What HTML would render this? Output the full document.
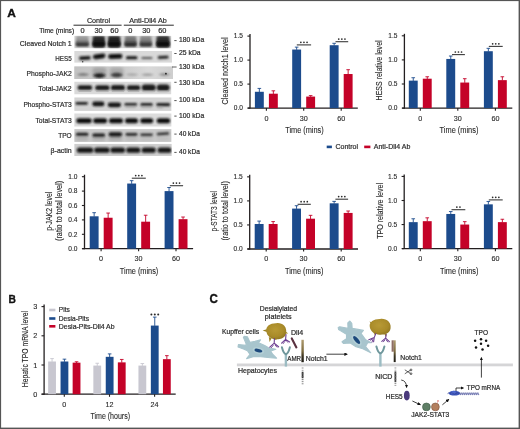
<!DOCTYPE html><html><head><meta charset="utf-8"><style>html,body{margin:0;padding:0;background:#fff;}svg{display:block;will-change:transform;}text{font-family:"Liberation Sans", sans-serif;}</style></head><body>
<svg width="520" height="429" viewBox="0 0 520 429">
<defs><filter id="b1" x="-30%" y="-250%" width="160%" height="600%"><feGaussianBlur stdDeviation="0.9"/></filter><filter id="b2" x="-30%" y="-250%" width="160%" height="600%"><feGaussianBlur stdDeviation="0.6"/></filter><filter id="b3" x="-30%" y="-250%" width="160%" height="600%"><feGaussianBlur stdDeviation="1.4"/></filter><filter id="bs" x="-10%" y="-10%" width="120%" height="120%"><feGaussianBlur stdDeviation="0.45"/></filter></defs>
<rect x="0.00" y="0.00" width="520.00" height="429.00" fill="#ffffff" />
<text x="7.30" y="17.40" font-size="11.6" textLength="8.60" lengthAdjust="spacingAndGlyphs" font-weight="bold" fill="#111" stroke="#111" stroke-width="0.35">A</text>
<text x="8.50" y="302.90" font-size="11.6" textLength="7.40" lengthAdjust="spacingAndGlyphs" font-weight="bold" fill="#111" stroke="#111" stroke-width="0.35">B</text>
<text x="209.60" y="303.00" font-size="12.0" textLength="8.40" lengthAdjust="spacingAndGlyphs" font-weight="bold" fill="#111" stroke="#111" stroke-width="0.35">C</text>
<text x="86.90" y="23.10" font-size="7.4" textLength="23.20" lengthAdjust="spacingAndGlyphs" fill="#2b2b2b" stroke="#2b2b2b" stroke-width="0.2" >Control</text>
<text x="129.20" y="23.10" font-size="7.4" textLength="37.60" lengthAdjust="spacingAndGlyphs" fill="#2b2b2b" stroke="#2b2b2b" stroke-width="0.2" >Anti-Dll4 Ab</text>
<line x1="73.50" y1="25.20" x2="121.60" y2="25.20" stroke="#2b2b2b" stroke-width="1.0" />
<line x1="123.80" y1="25.20" x2="173.80" y2="25.20" stroke="#2b2b2b" stroke-width="1.0" />
<text x="39.20" y="33.00" font-size="7.4" textLength="35.00" lengthAdjust="spacingAndGlyphs" fill="#2b2b2b" stroke="#2b2b2b" stroke-width="0.2" >Time (mins)</text>
<text x="82.60" y="33.00" font-size="7.4" text-anchor="middle" fill="#2b2b2b" stroke="#2b2b2b" stroke-width="0.2" >0</text>
<text x="98.50" y="33.00" font-size="7.4" text-anchor="middle" fill="#2b2b2b" stroke="#2b2b2b" stroke-width="0.2" >30</text>
<text x="114.40" y="33.00" font-size="7.4" text-anchor="middle" fill="#2b2b2b" stroke="#2b2b2b" stroke-width="0.2" >60</text>
<text x="130.30" y="33.00" font-size="7.4" text-anchor="middle" fill="#2b2b2b" stroke="#2b2b2b" stroke-width="0.2" >0</text>
<text x="146.30" y="33.00" font-size="7.4" text-anchor="middle" fill="#2b2b2b" stroke="#2b2b2b" stroke-width="0.2" >30</text>
<text x="162.30" y="33.00" font-size="7.4" text-anchor="middle" fill="#2b2b2b" stroke="#2b2b2b" stroke-width="0.2" >60</text>
<text x="19.80" y="46.40" font-size="7.5" textLength="51.90" lengthAdjust="spacingAndGlyphs" fill="#2b2b2b" stroke="#2b2b2b" stroke-width="0.2" >Cleaved Notch 1</text>
<text x="55.30" y="61.00" font-size="7.5" textLength="16.40" lengthAdjust="spacingAndGlyphs" fill="#2b2b2b" stroke="#2b2b2b" stroke-width="0.2" >HES5</text>
<text x="26.50" y="76.20" font-size="7.5" textLength="45.20" lengthAdjust="spacingAndGlyphs" fill="#2b2b2b" stroke="#2b2b2b" stroke-width="0.2" >Phospho-JAK2</text>
<text x="38.50" y="91.00" font-size="7.5" textLength="33.20" lengthAdjust="spacingAndGlyphs" fill="#2b2b2b" stroke="#2b2b2b" stroke-width="0.2" >Total-JAK2</text>
<text x="23.40" y="107.10" font-size="7.5" textLength="48.30" lengthAdjust="spacingAndGlyphs" fill="#2b2b2b" stroke="#2b2b2b" stroke-width="0.2" >Phospho-STAT3</text>
<text x="35.50" y="123.00" font-size="7.5" textLength="36.20" lengthAdjust="spacingAndGlyphs" fill="#2b2b2b" stroke="#2b2b2b" stroke-width="0.2" >Total-STAT3</text>
<text x="58.20" y="138.20" font-size="7.5" textLength="13.50" lengthAdjust="spacingAndGlyphs" fill="#2b2b2b" stroke="#2b2b2b" stroke-width="0.2" >TPO</text>
<text x="50.60" y="152.60" font-size="7.5" textLength="21.10" lengthAdjust="spacingAndGlyphs" fill="#2b2b2b" stroke="#2b2b2b" stroke-width="0.2" >β-actin</text>
<line x1="174.30" y1="40.60" x2="176.60" y2="40.60" stroke="#2b2b2b" stroke-width="0.8" />
<text x="179.00" y="42.00" font-size="6.6" textLength="25.20" lengthAdjust="spacingAndGlyphs" fill="#2b2b2b" stroke="#2b2b2b" stroke-width="0.2" >180 kDa</text>
<line x1="174.30" y1="53.50" x2="176.60" y2="53.50" stroke="#2b2b2b" stroke-width="0.8" />
<text x="179.00" y="55.00" font-size="6.6" textLength="21.60" lengthAdjust="spacingAndGlyphs" fill="#2b2b2b" stroke="#2b2b2b" stroke-width="0.2" >25 kDa</text>
<text x="179.00" y="69.10" font-size="6.6" textLength="25.20" lengthAdjust="spacingAndGlyphs" fill="#2b2b2b" stroke="#2b2b2b" stroke-width="0.2" >130 kDa</text>
<line x1="174.30" y1="82.30" x2="176.60" y2="82.30" stroke="#2b2b2b" stroke-width="0.8" />
<text x="179.00" y="84.50" font-size="6.6" textLength="25.20" lengthAdjust="spacingAndGlyphs" fill="#2b2b2b" stroke="#2b2b2b" stroke-width="0.2" >130 kDa</text>
<line x1="174.30" y1="100.60" x2="176.60" y2="100.60" stroke="#2b2b2b" stroke-width="0.8" />
<text x="179.00" y="102.30" font-size="6.6" textLength="25.20" lengthAdjust="spacingAndGlyphs" fill="#2b2b2b" stroke="#2b2b2b" stroke-width="0.2" >100 kDa</text>
<line x1="174.30" y1="116.10" x2="176.60" y2="116.10" stroke="#2b2b2b" stroke-width="0.8" />
<text x="179.00" y="118.10" font-size="6.6" textLength="25.20" lengthAdjust="spacingAndGlyphs" fill="#2b2b2b" stroke="#2b2b2b" stroke-width="0.2" >100 kDa</text>
<line x1="174.30" y1="134.10" x2="176.60" y2="134.10" stroke="#2b2b2b" stroke-width="0.8" />
<text x="179.00" y="135.80" font-size="6.6" textLength="20.80" lengthAdjust="spacingAndGlyphs" fill="#2b2b2b" stroke="#2b2b2b" stroke-width="0.2" >40 kDa</text>
<line x1="174.30" y1="152.40" x2="176.60" y2="152.40" stroke="#2b2b2b" stroke-width="0.8" />
<text x="179.00" y="153.70" font-size="6.6" textLength="20.80" lengthAdjust="spacingAndGlyphs" fill="#2b2b2b" stroke="#2b2b2b" stroke-width="0.2" >40 kDa</text>
<defs><linearGradient id="pj" x1="0" y1="0" x2="1" y2="0"><stop offset="0" stop-color="#bdbdbd" stop-opacity="0.7"/><stop offset="0.45" stop-color="#c4c4c4" stop-opacity="0.4"/><stop offset="0.75" stop-color="#e4e4e4" stop-opacity="0.5"/><stop offset="1" stop-color="#cfcfcf" stop-opacity="0.3"/></linearGradient></defs>
<g id="blot">
<clipPath id="cs0"><rect x="74.2" y="35.7" width="97.2" height="12.699999999999996"/></clipPath>
<g clip-path="url(#cs0)">
<rect x="74.20" y="35.70" width="97.20" height="12.70" fill="#d6d6d6" />
</g>
<clipPath id="cs1"><rect x="74.2" y="51.0" width="97.8" height="11.799999999999997"/></clipPath>
<g clip-path="url(#cs1)">
<rect x="74.20" y="51.00" width="97.80" height="11.80" fill="#d9d9d9" />
</g>
<clipPath id="cs2"><rect x="74.2" y="66.3" width="98.8" height="12.700000000000003"/></clipPath>
<g clip-path="url(#cs2)">
<rect x="74.20" y="66.30" width="98.80" height="12.70" fill="#cfcfcf" />
<rect x="74.2" y="66.3" width="98.8" height="12.700000000000003" fill="url(#pj)"/>
</g>
<clipPath id="cs3"><rect x="74.2" y="81.5" width="97.2" height="13.0"/></clipPath>
<g clip-path="url(#cs3)">
<rect x="74.20" y="81.50" width="97.20" height="13.00" fill="#dadada" />
</g>
<clipPath id="cs4"><rect x="74.2" y="97.3" width="97.39999999999999" height="13.600000000000009"/></clipPath>
<g clip-path="url(#cs4)">
<rect x="74.20" y="97.30" width="97.40" height="13.60" fill="#d4d4d4" />
</g>
<clipPath id="cs5"><rect x="74.2" y="113.3" width="97.39999999999999" height="13.400000000000006"/></clipPath>
<g clip-path="url(#cs5)">
<rect x="74.20" y="113.30" width="97.40" height="13.40" fill="#dcdcdc" />
</g>
<clipPath id="cs6"><rect x="74.2" y="129.1" width="97.39999999999999" height="12.800000000000011"/></clipPath>
<g clip-path="url(#cs6)">
<rect x="74.20" y="129.10" width="97.40" height="12.80" fill="#c9c9c9" />
</g>
<clipPath id="cs7"><rect x="74.2" y="143.8" width="97.60000000000001" height="12.199999999999989"/></clipPath>
<g clip-path="url(#cs7)">
<rect x="74.20" y="143.80" width="97.60" height="12.20" fill="#cfcfcf" />
</g>
<line x1="172.00" y1="67.00" x2="176.60" y2="67.00" stroke="#3a3a3a" stroke-width="0.8" />
</g>
<g clip-path="url(#cs0)"><rect x="76.10" y="36.10" width="12.50" height="11.00" rx="1.60" fill="#9a9a9a" opacity="1.0" filter="url(#b1)"/></g>
<g clip-path="url(#cs0)"><rect x="76.10" y="40.50" width="12.50" height="5.00" rx="1.60" fill="#707070" opacity="1.0" filter="url(#b1)"/></g>
<g clip-path="url(#cs0)"><rect x="76.10" y="43.10" width="12.50" height="3.00" rx="1.20" fill="#303030" opacity="1.0" filter="url(#b1)"/></g>
<g clip-path="url(#cs0)"><rect x="124.80" y="36.10" width="11.60" height="11.00" rx="1.60" fill="#7a7a7a" opacity="1.0" filter="url(#b1)"/></g>
<g clip-path="url(#cs0)"><rect x="124.80" y="40.50" width="11.60" height="5.00" rx="1.60" fill="#5a5a5a" opacity="1.0" filter="url(#b1)"/></g>
<g clip-path="url(#cs0)"><rect x="124.80" y="43.10" width="11.60" height="3.00" rx="1.20" fill="#262626" opacity="1.0" filter="url(#b1)"/></g>
<g clip-path="url(#cs0)"><rect x="140.00" y="36.10" width="11.60" height="11.00" rx="1.60" fill="#888888" opacity="1.0" filter="url(#b1)"/></g>
<g clip-path="url(#cs0)"><rect x="140.00" y="40.50" width="11.60" height="5.00" rx="1.60" fill="#666666" opacity="1.0" filter="url(#b1)"/></g>
<g clip-path="url(#cs0)"><rect x="140.00" y="43.10" width="11.60" height="3.00" rx="1.20" fill="#303030" opacity="1.0" filter="url(#b1)"/></g>
<g clip-path="url(#cs0)"><rect x="92.60" y="36.00" width="12.40" height="11.40" rx="1.80" fill="#2a2a2a" opacity="1.0" filter="url(#b1)"/></g>
<g clip-path="url(#cs0)"><rect x="92.60" y="41.20" width="12.40" height="5.60" rx="1.80" fill="#0c0c0c" opacity="1.0" filter="url(#b1)"/></g>
<g clip-path="url(#cs0)"><rect x="108.00" y="36.00" width="12.40" height="11.40" rx="1.80" fill="#262626" opacity="1.0" filter="url(#b1)"/></g>
<g clip-path="url(#cs0)"><rect x="108.00" y="41.20" width="12.40" height="5.60" rx="1.80" fill="#0c0c0c" opacity="1.0" filter="url(#b1)"/></g>
<g clip-path="url(#cs0)"><rect x="156.40" y="36.00" width="13.20" height="11.40" rx="1.80" fill="#303030" opacity="1.0" filter="url(#b1)"/></g>
<g clip-path="url(#cs0)"><rect x="156.40" y="41.20" width="13.20" height="5.60" rx="1.80" fill="#0c0c0c" opacity="1.0" filter="url(#b1)"/></g>
<g clip-path="url(#cs1)"><rect x="79.00" y="56.30" width="11.80" height="3.40" rx="1.70" fill="#101010" opacity="1.0" filter="url(#b1)" transform="rotate(-3.00 84.90 58.00)"/></g>
<circle cx="82.7" cy="61.8" r="0.7" fill="#333" filter="url(#b2)"/>
<g clip-path="url(#cs1)"><rect x="93.00" y="53.90" width="12.40" height="4.80" rx="2.40" fill="#080808" opacity="1.0" filter="url(#b1)" transform="rotate(-8.00 99.20 56.30)"/></g>
<g clip-path="url(#cs1)"><rect x="108.20" y="54.10" width="14.20" height="4.60" rx="2.30" fill="#080808" opacity="1.0" filter="url(#b1)" transform="rotate(-2.00 115.30 56.40)"/></g>
<g clip-path="url(#cs1)"><rect x="125.90" y="56.20" width="11.60" height="3.00" rx="1.50" fill="#161616" opacity="1.0" filter="url(#b1)"/></g>
<g clip-path="url(#cs1)"><rect x="141.30" y="57.10" width="11.20" height="2.00" rx="1.00" fill="#555555" opacity="1.0" filter="url(#b1)"/></g>
<g clip-path="url(#cs1)"><rect x="157.70" y="55.80" width="10.90" height="3.00" rx="1.50" fill="#202020" opacity="1.0" filter="url(#b1)" transform="rotate(-3.00 163.15 57.30)"/></g>
<g clip-path="url(#cs2)"><rect x="92.60" y="67.60" width="13.60" height="10.00" rx="3.00" fill="#a4a4a4" opacity="1.0" filter="url(#b3)"/></g>
<g clip-path="url(#cs2)"><rect x="110.00" y="67.60" width="13.40" height="10.00" rx="3.00" fill="#aaaaaa" opacity="1.0" filter="url(#b3)"/></g>
<g clip-path="url(#cs2)"><path d="M76.60,74.60 Q83.10,71.60 89.60,74.60 Q83.10,77.60 76.60,74.60 Z" fill="#7c7c7c" opacity="1.0" filter="url(#b1)"/></g>
<g clip-path="url(#cs2)"><path d="M92.80,75.60 Q99.40,70.80 106.00,75.60 Q99.40,80.40 92.80,75.60 Z" fill="#1e1e1e" opacity="1.0" filter="url(#b1)"/></g>
<g clip-path="url(#cs2)"><path d="M110.20,75.00 Q116.70,70.40 123.20,75.00 Q116.70,79.60 110.20,75.00 Z" fill="#3c3c3c" opacity="1.0" filter="url(#b1)"/></g>
<g clip-path="url(#cs2)"><path d="M125.60,74.60 Q132.10,72.20 138.60,74.60 Q132.10,77.00 125.60,74.60 Z" fill="#a2a2a2" opacity="1.0" filter="url(#b1)"/></g>
<g clip-path="url(#cs2)"><path d="M141.00,74.80 Q147.50,72.40 154.00,74.80 Q147.50,77.20 141.00,74.80 Z" fill="#9c9c9c" opacity="1.0" filter="url(#b1)"/></g>
<g clip-path="url(#cs2)"><path d="M158.40,74.60 Q164.40,71.80 170.40,74.60 Q164.40,77.40 158.40,74.60 Z" fill="#8c8c8c" opacity="1.0" filter="url(#b1)"/></g>
<circle cx="165.9" cy="73.7" r="0.9" fill="#222" filter="url(#b2)"/>
<g clip-path="url(#cs3)"><rect x="77.50" y="85.30" width="14.80" height="4.80" rx="2.40" fill="#1a1a1a" opacity="1.0" filter="url(#b1)"/></g>
<g clip-path="url(#cs3)"><rect x="78.50" y="90.70" width="12.80" height="1.40" rx="0.70" fill="#b4b4b4" opacity="1.0" filter="url(#b2)"/></g>
<g clip-path="url(#cs3)"><rect x="95.20" y="85.20" width="14.40" height="5.00" rx="2.50" fill="#1a1a1a" opacity="1.0" filter="url(#b1)"/></g>
<g clip-path="url(#cs3)"><rect x="96.20" y="90.70" width="12.40" height="1.40" rx="0.70" fill="#b4b4b4" opacity="1.0" filter="url(#b2)"/></g>
<g clip-path="url(#cs3)"><rect x="110.90" y="85.10" width="14.10" height="5.20" rx="2.60" fill="#1a1a1a" opacity="1.0" filter="url(#b1)"/></g>
<g clip-path="url(#cs3)"><rect x="111.90" y="90.70" width="12.10" height="1.40" rx="0.70" fill="#b4b4b4" opacity="1.0" filter="url(#b2)"/></g>
<g clip-path="url(#cs3)"><rect x="126.90" y="85.20" width="13.40" height="5.00" rx="2.50" fill="#1a1a1a" opacity="1.0" filter="url(#b1)"/></g>
<g clip-path="url(#cs3)"><rect x="127.90" y="90.70" width="11.40" height="1.40" rx="0.70" fill="#b4b4b4" opacity="1.0" filter="url(#b2)"/></g>
<g clip-path="url(#cs3)"><rect x="141.70" y="84.60" width="14.00" height="6.20" rx="3.10" fill="#1a1a1a" opacity="1.0" filter="url(#b1)"/></g>
<g clip-path="url(#cs3)"><rect x="142.70" y="90.70" width="12.00" height="1.40" rx="0.70" fill="#b4b4b4" opacity="1.0" filter="url(#b2)"/></g>
<g clip-path="url(#cs3)"><rect x="156.70" y="84.60" width="12.90" height="6.20" rx="3.10" fill="#1a1a1a" opacity="1.0" filter="url(#b1)"/></g>
<g clip-path="url(#cs3)"><rect x="157.70" y="90.70" width="10.90" height="1.40" rx="0.70" fill="#b4b4b4" opacity="1.0" filter="url(#b2)"/></g>
<g clip-path="url(#cs4)"><rect x="75.50" y="101.90" width="12.30" height="2.80" rx="1.40" fill="#1e1e1e" opacity="1.0" filter="url(#b1)"/></g>
<g clip-path="url(#cs4)"><rect x="92.30" y="101.50" width="12.10" height="4.80" rx="2.40" fill="#141414" opacity="1.0" filter="url(#b1)"/></g>
<g clip-path="url(#cs4)"><rect x="107.70" y="102.40" width="13.40" height="4.80" rx="2.40" fill="#161616" opacity="1.0" filter="url(#b1)"/></g>
<g clip-path="url(#cs4)"><rect x="124.40" y="102.90" width="12.70" height="2.80" rx="1.40" fill="#222222" opacity="1.0" filter="url(#b1)"/></g>
<g clip-path="url(#cs4)"><rect x="140.30" y="103.10" width="12.50" height="3.00" rx="1.50" fill="#262626" opacity="1.0" filter="url(#b1)"/></g>
<g clip-path="url(#cs4)"><rect x="156.30" y="103.00" width="13.90" height="3.20" rx="1.60" fill="#222222" opacity="1.0" filter="url(#b1)"/></g>
<g clip-path="url(#cs4)"><rect x="125.40" y="106.30" width="10.60" height="1.20" rx="0.60" fill="#9a9a9a" opacity="1.0" filter="url(#b1)"/></g>
<g clip-path="url(#cs4)"><rect x="141.00" y="106.50" width="11.00" height="1.20" rx="0.60" fill="#9a9a9a" opacity="1.0" filter="url(#b1)"/></g>
<g clip-path="url(#cs4)"><rect x="157.00" y="106.70" width="6.00" height="1.20" rx="0.60" fill="#9a9a9a" opacity="1.0" filter="url(#b1)"/></g>
<g clip-path="url(#cs5)"><rect x="76.30" y="118.20" width="15.40" height="5.00" rx="2.50" fill="#0e0e0e" opacity="1.0" filter="url(#b1)"/></g>
<g clip-path="url(#cs5)"><rect x="93.20" y="118.20" width="13.90" height="5.00" rx="2.50" fill="#0e0e0e" opacity="1.0" filter="url(#b1)"/></g>
<g clip-path="url(#cs5)"><rect x="109.00" y="118.20" width="14.00" height="5.00" rx="2.50" fill="#0e0e0e" opacity="1.0" filter="url(#b1)"/></g>
<g clip-path="url(#cs5)"><rect x="125.00" y="118.20" width="13.00" height="5.00" rx="2.50" fill="#0e0e0e" opacity="1.0" filter="url(#b1)"/></g>
<g clip-path="url(#cs5)"><rect x="140.30" y="118.20" width="12.90" height="5.00" rx="2.50" fill="#0e0e0e" opacity="1.0" filter="url(#b1)"/></g>
<g clip-path="url(#cs5)"><rect x="156.70" y="118.20" width="13.50" height="5.00" rx="2.50" fill="#0e0e0e" opacity="1.0" filter="url(#b1)"/></g>
<g clip-path="url(#cs6)"><rect x="75.90" y="136.20" width="12.50" height="4.40" rx="1.50" fill="#b0b0b0" opacity="1.0" filter="url(#b3)"/></g>
<g clip-path="url(#cs6)"><rect x="92.30" y="136.20" width="12.90" height="4.40" rx="1.50" fill="#acacac" opacity="1.0" filter="url(#b3)"/></g>
<g clip-path="url(#cs6)"><rect x="108.60" y="136.20" width="13.50" height="4.40" rx="1.50" fill="#a8a8a8" opacity="1.0" filter="url(#b3)"/></g>
<g clip-path="url(#cs6)"><rect x="125.50" y="136.20" width="12.00" height="4.40" rx="1.50" fill="#bababa" opacity="1.0" filter="url(#b3)"/></g>
<g clip-path="url(#cs6)"><rect x="140.30" y="136.20" width="12.50" height="4.40" rx="1.50" fill="#bebebe" opacity="1.0" filter="url(#b3)"/></g>
<g clip-path="url(#cs6)"><rect x="156.70" y="136.20" width="12.50" height="4.40" rx="1.50" fill="#c0c0c0" opacity="1.0" filter="url(#b3)"/></g>
<g clip-path="url(#cs6)"><rect x="75.90" y="132.80" width="12.50" height="3.00" rx="1.50" fill="#1c1c1c" opacity="1.0" filter="url(#b1)"/></g>
<g clip-path="url(#cs6)"><rect x="92.30" y="133.50" width="12.90" height="3.20" rx="1.60" fill="#1c1c1c" opacity="1.0" filter="url(#b1)"/></g>
<g clip-path="url(#cs6)"><rect x="108.60" y="132.20" width="13.50" height="4.20" rx="2.10" fill="#141414" opacity="1.0" filter="url(#b1)"/></g>
<g clip-path="url(#cs6)"><rect x="125.50" y="132.90" width="12.00" height="2.80" rx="1.40" fill="#242424" opacity="1.0" filter="url(#b1)"/></g>
<g clip-path="url(#cs6)"><rect x="140.30" y="133.40" width="12.50" height="2.60" rx="1.30" fill="#2c2c2c" opacity="1.0" filter="url(#b1)"/></g>
<g clip-path="url(#cs6)"><rect x="156.70" y="132.40" width="12.50" height="2.60" rx="1.30" fill="#282828" opacity="1.0" filter="url(#b1)" transform="rotate(-4.00 162.95 133.70)"/></g>
<g clip-path="url(#cs7)"><rect x="76.90" y="147.60" width="16.30" height="5.20" rx="2.60" fill="#121212" opacity="1.0" filter="url(#b1)"/></g>
<g clip-path="url(#cs7)"><rect x="94.20" y="147.60" width="15.40" height="5.20" rx="2.60" fill="#121212" opacity="1.0" filter="url(#b1)"/></g>
<g clip-path="url(#cs7)"><rect x="110.50" y="147.60" width="14.50" height="5.20" rx="2.60" fill="#121212" opacity="1.0" filter="url(#b1)"/></g>
<g clip-path="url(#cs7)"><rect x="126.30" y="147.60" width="14.00" height="5.20" rx="2.60" fill="#121212" opacity="1.0" filter="url(#b1)"/></g>
<g clip-path="url(#cs7)"><rect x="141.70" y="147.60" width="14.00" height="5.20" rx="2.60" fill="#121212" opacity="1.0" filter="url(#b1)"/></g>
<g clip-path="url(#cs7)"><rect x="157.70" y="147.60" width="13.70" height="5.20" rx="2.60" fill="#121212" opacity="1.0" filter="url(#b1)"/></g>
<line x1="250.00" y1="34.10" x2="250.00" y2="108.60" stroke="#231f20" stroke-width="1.3" />
<line x1="247.80" y1="108.10" x2="357.80" y2="108.10" stroke="#231f20" stroke-width="1.3" />
<line x1="247.40" y1="108.10" x2="250.00" y2="108.10" stroke="#231f20" stroke-width="1.1" />
<text x="243.00" y="110.46" font-size="6.6" text-anchor="end" fill="#2a2a2a" stroke="#2a2a2a" stroke-width="0.12" >0.0</text>
<line x1="247.40" y1="84.10" x2="250.00" y2="84.10" stroke="#231f20" stroke-width="1.1" />
<text x="243.00" y="86.46" font-size="6.6" text-anchor="end" fill="#2a2a2a" stroke="#2a2a2a" stroke-width="0.12" >0.5</text>
<line x1="247.40" y1="60.10" x2="250.00" y2="60.10" stroke="#231f20" stroke-width="1.1" />
<text x="243.00" y="62.46" font-size="6.6" text-anchor="end" fill="#2a2a2a" stroke="#2a2a2a" stroke-width="0.12" >1.0</text>
<line x1="247.40" y1="36.10" x2="250.00" y2="36.10" stroke="#231f20" stroke-width="1.1" />
<text x="243.00" y="38.46" font-size="6.6" text-anchor="end" fill="#2a2a2a" stroke="#2a2a2a" stroke-width="0.12" >1.5</text>
<rect x="254.90" y="91.78" width="8.90" height="16.32" fill="#1c4b8c" />
<line x1="259.35" y1="88.42" x2="259.35" y2="92.08" stroke="#1c4b8c" stroke-width="0.9" />
<line x1="257.55" y1="88.42" x2="261.15" y2="88.42" stroke="#1c4b8c" stroke-width="0.9" />
<rect x="292.20" y="49.54" width="8.90" height="58.56" fill="#1c4b8c" />
<line x1="296.65" y1="47.14" x2="296.65" y2="49.84" stroke="#1c4b8c" stroke-width="0.9" />
<line x1="294.85" y1="47.14" x2="298.45" y2="47.14" stroke="#1c4b8c" stroke-width="0.9" />
<rect x="329.70" y="45.22" width="8.90" height="62.88" fill="#1c4b8c" />
<line x1="334.15" y1="43.30" x2="334.15" y2="45.52" stroke="#1c4b8c" stroke-width="0.9" />
<line x1="332.35" y1="43.30" x2="335.95" y2="43.30" stroke="#1c4b8c" stroke-width="0.9" />
<rect x="268.90" y="93.70" width="8.90" height="14.40" fill="#c40228" />
<line x1="273.35" y1="90.82" x2="273.35" y2="94.00" stroke="#c40228" stroke-width="0.9" />
<line x1="271.55" y1="90.82" x2="275.15" y2="90.82" stroke="#c40228" stroke-width="0.9" />
<rect x="306.20" y="96.58" width="8.90" height="11.52" fill="#c40228" />
<line x1="310.65" y1="95.62" x2="310.65" y2="96.88" stroke="#c40228" stroke-width="0.9" />
<line x1="308.85" y1="95.62" x2="312.45" y2="95.62" stroke="#c40228" stroke-width="0.9" />
<rect x="343.70" y="74.02" width="8.90" height="34.08" fill="#c40228" />
<line x1="348.15" y1="69.70" x2="348.15" y2="74.32" stroke="#c40228" stroke-width="0.9" />
<line x1="346.35" y1="69.70" x2="349.95" y2="69.70" stroke="#c40228" stroke-width="0.9" />
<line x1="266.40" y1="108.10" x2="266.40" y2="110.70" stroke="#231f20" stroke-width="1.1" />
<text x="266.40" y="120.80" font-size="7.2" text-anchor="middle" fill="#2a2a2a" stroke="#2a2a2a" stroke-width="0.12" >0</text>
<line x1="303.70" y1="108.10" x2="303.70" y2="110.70" stroke="#231f20" stroke-width="1.1" />
<text x="303.70" y="120.80" font-size="7.2" text-anchor="middle" fill="#2a2a2a" stroke="#2a2a2a" stroke-width="0.12" >30</text>
<line x1="341.20" y1="108.10" x2="341.20" y2="110.70" stroke="#231f20" stroke-width="1.1" />
<text x="341.20" y="120.80" font-size="7.2" text-anchor="middle" fill="#2a2a2a" stroke="#2a2a2a" stroke-width="0.12" >60</text>
<text x="285.20" y="132.90" font-size="9.2" textLength="38.50" lengthAdjust="spacingAndGlyphs" fill="#2a2a2a" stroke="#2a2a2a" stroke-width="0.12" >Time (mins)</text>
<text x="228.40" y="104.40" font-size="9.6" textLength="67.00" lengthAdjust="spacingAndGlyphs" fill="#2a2a2a" transform="rotate(-90 228.40 104.40)" stroke="#2a2a2a" stroke-width="0.12" >Cleaved notch1 level</text>
<line x1="296.80" y1="44.90" x2="311.10" y2="44.90" stroke="#3a3a3a" stroke-width="1.1" />
<circle cx="300.85" cy="42.30" r="0.85" fill="#2a2a2a"/>
<circle cx="303.95" cy="42.30" r="0.85" fill="#2a2a2a"/>
<circle cx="307.05" cy="42.30" r="0.85" fill="#2a2a2a"/>
<line x1="335.50" y1="41.70" x2="348.20" y2="41.70" stroke="#3a3a3a" stroke-width="1.1" />
<circle cx="338.75" cy="39.10" r="0.85" fill="#2a2a2a"/>
<circle cx="341.85" cy="39.10" r="0.85" fill="#2a2a2a"/>
<circle cx="344.95" cy="39.10" r="0.85" fill="#2a2a2a"/>
<line x1="404.40" y1="33.80" x2="404.40" y2="108.60" stroke="#231f20" stroke-width="1.3" />
<line x1="402.20" y1="108.10" x2="512.30" y2="108.10" stroke="#231f20" stroke-width="1.3" />
<line x1="401.80" y1="108.10" x2="404.40" y2="108.10" stroke="#231f20" stroke-width="1.1" />
<text x="397.40" y="110.46" font-size="6.6" text-anchor="end" fill="#2a2a2a" stroke="#2a2a2a" stroke-width="0.12" >0.0</text>
<line x1="401.80" y1="84.00" x2="404.40" y2="84.00" stroke="#231f20" stroke-width="1.1" />
<text x="397.40" y="86.36" font-size="6.6" text-anchor="end" fill="#2a2a2a" stroke="#2a2a2a" stroke-width="0.12" >0.5</text>
<line x1="401.80" y1="59.90" x2="404.40" y2="59.90" stroke="#231f20" stroke-width="1.1" />
<text x="397.40" y="62.26" font-size="6.6" text-anchor="end" fill="#2a2a2a" stroke="#2a2a2a" stroke-width="0.12" >1.0</text>
<line x1="401.80" y1="35.80" x2="404.40" y2="35.80" stroke="#231f20" stroke-width="1.1" />
<text x="397.40" y="38.16" font-size="6.6" text-anchor="end" fill="#2a2a2a" stroke="#2a2a2a" stroke-width="0.12" >1.5</text>
<rect x="408.80" y="80.63" width="8.90" height="27.47" fill="#1c4b8c" />
<line x1="413.25" y1="77.73" x2="413.25" y2="80.93" stroke="#1c4b8c" stroke-width="0.9" />
<line x1="411.45" y1="77.73" x2="415.05" y2="77.73" stroke="#1c4b8c" stroke-width="0.9" />
<rect x="446.30" y="58.94" width="8.90" height="49.16" fill="#1c4b8c" />
<line x1="450.75" y1="56.04" x2="450.75" y2="59.24" stroke="#1c4b8c" stroke-width="0.9" />
<line x1="448.95" y1="56.04" x2="452.55" y2="56.04" stroke="#1c4b8c" stroke-width="0.9" />
<rect x="483.90" y="51.22" width="8.90" height="56.88" fill="#1c4b8c" />
<line x1="488.35" y1="48.33" x2="488.35" y2="51.52" stroke="#1c4b8c" stroke-width="0.9" />
<line x1="486.55" y1="48.33" x2="490.15" y2="48.33" stroke="#1c4b8c" stroke-width="0.9" />
<rect x="422.80" y="78.70" width="8.90" height="29.40" fill="#c40228" />
<line x1="427.25" y1="76.77" x2="427.25" y2="79.00" stroke="#c40228" stroke-width="0.9" />
<line x1="425.45" y1="76.77" x2="429.05" y2="76.77" stroke="#c40228" stroke-width="0.9" />
<rect x="460.30" y="82.55" width="8.90" height="25.55" fill="#c40228" />
<line x1="464.75" y1="78.70" x2="464.75" y2="82.85" stroke="#c40228" stroke-width="0.9" />
<line x1="462.95" y1="78.70" x2="466.55" y2="78.70" stroke="#c40228" stroke-width="0.9" />
<rect x="497.90" y="80.14" width="8.90" height="27.96" fill="#c40228" />
<line x1="502.35" y1="76.77" x2="502.35" y2="80.44" stroke="#c40228" stroke-width="0.9" />
<line x1="500.55" y1="76.77" x2="504.15" y2="76.77" stroke="#c40228" stroke-width="0.9" />
<line x1="420.30" y1="108.10" x2="420.30" y2="110.70" stroke="#231f20" stroke-width="1.1" />
<text x="420.30" y="120.80" font-size="7.2" text-anchor="middle" fill="#2a2a2a" stroke="#2a2a2a" stroke-width="0.12" >0</text>
<line x1="457.80" y1="108.10" x2="457.80" y2="110.70" stroke="#231f20" stroke-width="1.1" />
<text x="457.80" y="120.80" font-size="7.2" text-anchor="middle" fill="#2a2a2a" stroke="#2a2a2a" stroke-width="0.12" >30</text>
<line x1="495.40" y1="108.10" x2="495.40" y2="110.70" stroke="#231f20" stroke-width="1.1" />
<text x="495.40" y="120.80" font-size="7.2" text-anchor="middle" fill="#2a2a2a" stroke="#2a2a2a" stroke-width="0.12" >60</text>
<text x="439.60" y="132.90" font-size="9.2" textLength="38.80" lengthAdjust="spacingAndGlyphs" fill="#2a2a2a" stroke="#2a2a2a" stroke-width="0.12" >Time (mins)</text>
<text x="382.40" y="100.40" font-size="9.6" textLength="60.00" lengthAdjust="spacingAndGlyphs" fill="#2a2a2a" transform="rotate(-90 382.40 100.40)" stroke="#2a2a2a" stroke-width="0.12" >HESS relative level</text>
<line x1="452.00" y1="54.60" x2="464.90" y2="54.60" stroke="#3a3a3a" stroke-width="1.1" />
<circle cx="455.35" cy="52.00" r="0.85" fill="#2a2a2a"/>
<circle cx="458.45" cy="52.00" r="0.85" fill="#2a2a2a"/>
<circle cx="461.55" cy="52.00" r="0.85" fill="#2a2a2a"/>
<line x1="488.80" y1="46.40" x2="502.70" y2="46.40" stroke="#3a3a3a" stroke-width="1.1" />
<circle cx="492.65" cy="43.80" r="0.85" fill="#2a2a2a"/>
<circle cx="495.75" cy="43.80" r="0.85" fill="#2a2a2a"/>
<circle cx="498.85" cy="43.80" r="0.85" fill="#2a2a2a"/>
<rect x="326.70" y="145.60" width="5.20" height="2.60" fill="#1c4b8c" />
<text x="335.40" y="149.40" font-size="7.2" textLength="22.70" lengthAdjust="spacingAndGlyphs" fill="#2b2b2b" stroke="#2b2b2b" stroke-width="0.2" >Control</text>
<rect x="364.20" y="145.60" width="6.20" height="2.60" fill="#c40228" />
<text x="373.80" y="149.40" font-size="7.2" textLength="36.60" lengthAdjust="spacingAndGlyphs" fill="#2b2b2b" stroke="#2b2b2b" stroke-width="0.2" >Anti-Dll4 Ab</text>
<line x1="84.50" y1="174.70" x2="84.50" y2="249.20" stroke="#231f20" stroke-width="1.3" />
<line x1="82.30" y1="248.70" x2="193.10" y2="248.70" stroke="#231f20" stroke-width="1.3" />
<line x1="81.90" y1="248.70" x2="84.50" y2="248.70" stroke="#231f20" stroke-width="1.1" />
<text x="77.50" y="251.06" font-size="6.6" text-anchor="end" fill="#2a2a2a" stroke="#2a2a2a" stroke-width="0.12" >0.0</text>
<line x1="81.90" y1="234.30" x2="84.50" y2="234.30" stroke="#231f20" stroke-width="1.1" />
<text x="77.50" y="236.66" font-size="6.6" text-anchor="end" fill="#2a2a2a" stroke="#2a2a2a" stroke-width="0.12" >0.2</text>
<line x1="81.90" y1="219.90" x2="84.50" y2="219.90" stroke="#231f20" stroke-width="1.1" />
<text x="77.50" y="222.26" font-size="6.6" text-anchor="end" fill="#2a2a2a" stroke="#2a2a2a" stroke-width="0.12" >0.4</text>
<line x1="81.90" y1="205.50" x2="84.50" y2="205.50" stroke="#231f20" stroke-width="1.1" />
<text x="77.50" y="207.86" font-size="6.6" text-anchor="end" fill="#2a2a2a" stroke="#2a2a2a" stroke-width="0.12" >0.6</text>
<line x1="81.90" y1="191.10" x2="84.50" y2="191.10" stroke="#231f20" stroke-width="1.1" />
<text x="77.50" y="193.46" font-size="6.6" text-anchor="end" fill="#2a2a2a" stroke="#2a2a2a" stroke-width="0.12" >0.8</text>
<line x1="81.90" y1="176.70" x2="84.50" y2="176.70" stroke="#231f20" stroke-width="1.1" />
<text x="77.50" y="179.06" font-size="6.6" text-anchor="end" fill="#2a2a2a" stroke="#2a2a2a" stroke-width="0.12" >1.0</text>
<rect x="89.70" y="216.30" width="8.90" height="32.40" fill="#1c4b8c" />
<line x1="94.15" y1="212.70" x2="94.15" y2="216.60" stroke="#1c4b8c" stroke-width="0.9" />
<line x1="92.35" y1="212.70" x2="95.95" y2="212.70" stroke="#1c4b8c" stroke-width="0.9" />
<rect x="127.20" y="183.54" width="8.90" height="65.16" fill="#1c4b8c" />
<line x1="131.65" y1="180.66" x2="131.65" y2="183.84" stroke="#1c4b8c" stroke-width="0.9" />
<line x1="129.85" y1="180.66" x2="133.45" y2="180.66" stroke="#1c4b8c" stroke-width="0.9" />
<rect x="164.60" y="191.10" width="8.90" height="57.60" fill="#1c4b8c" />
<line x1="169.05" y1="187.50" x2="169.05" y2="191.40" stroke="#1c4b8c" stroke-width="0.9" />
<line x1="167.25" y1="187.50" x2="170.85" y2="187.50" stroke="#1c4b8c" stroke-width="0.9" />
<rect x="103.70" y="217.74" width="8.90" height="30.96" fill="#c40228" />
<line x1="108.15" y1="213.06" x2="108.15" y2="218.04" stroke="#c40228" stroke-width="0.9" />
<line x1="106.35" y1="213.06" x2="109.95" y2="213.06" stroke="#c40228" stroke-width="0.9" />
<rect x="141.20" y="221.70" width="8.90" height="27.00" fill="#c40228" />
<line x1="145.65" y1="215.22" x2="145.65" y2="222.00" stroke="#c40228" stroke-width="0.9" />
<line x1="143.85" y1="215.22" x2="147.45" y2="215.22" stroke="#c40228" stroke-width="0.9" />
<rect x="178.60" y="219.18" width="8.90" height="29.52" fill="#c40228" />
<line x1="183.05" y1="217.02" x2="183.05" y2="219.48" stroke="#c40228" stroke-width="0.9" />
<line x1="181.25" y1="217.02" x2="184.85" y2="217.02" stroke="#c40228" stroke-width="0.9" />
<line x1="101.10" y1="248.70" x2="101.10" y2="251.30" stroke="#231f20" stroke-width="1.1" />
<text x="101.10" y="261.20" font-size="7.2" text-anchor="middle" fill="#2a2a2a" stroke="#2a2a2a" stroke-width="0.12" >0</text>
<line x1="138.60" y1="248.70" x2="138.60" y2="251.30" stroke="#231f20" stroke-width="1.1" />
<text x="138.60" y="261.20" font-size="7.2" text-anchor="middle" fill="#2a2a2a" stroke="#2a2a2a" stroke-width="0.12" >30</text>
<line x1="176.00" y1="248.70" x2="176.00" y2="251.30" stroke="#231f20" stroke-width="1.1" />
<text x="176.00" y="261.20" font-size="7.2" text-anchor="middle" fill="#2a2a2a" stroke="#2a2a2a" stroke-width="0.12" >60</text>
<text x="119.80" y="273.50" font-size="9.2" textLength="38.50" lengthAdjust="spacingAndGlyphs" fill="#2a2a2a" stroke="#2a2a2a" stroke-width="0.12" >Time (mins)</text>
<text x="51.60" y="230.80" font-size="8.8" textLength="39.20" lengthAdjust="spacingAndGlyphs" fill="#2a2a2a" transform="rotate(-90 51.60 230.80)" stroke="#2a2a2a" stroke-width="0.12" >p-JAK2 level</text>
<text x="61.90" y="241.00" font-size="8.8" textLength="60.20" lengthAdjust="spacingAndGlyphs" fill="#2a2a2a" transform="rotate(-90 61.90 241.00)" stroke="#2a2a2a" stroke-width="0.12" >(ratio to total level)</text>
<line x1="131.80" y1="178.20" x2="145.80" y2="178.20" stroke="#3a3a3a" stroke-width="1.1" />
<circle cx="135.70" cy="175.60" r="0.85" fill="#2a2a2a"/>
<circle cx="138.80" cy="175.60" r="0.85" fill="#2a2a2a"/>
<circle cx="141.90" cy="175.60" r="0.85" fill="#2a2a2a"/>
<line x1="169.80" y1="185.70" x2="183.10" y2="185.70" stroke="#3a3a3a" stroke-width="1.1" />
<circle cx="173.35" cy="183.10" r="0.85" fill="#2a2a2a"/>
<circle cx="176.45" cy="183.10" r="0.85" fill="#2a2a2a"/>
<circle cx="179.55" cy="183.10" r="0.85" fill="#2a2a2a"/>
<line x1="249.70" y1="174.85" x2="249.70" y2="249.50" stroke="#231f20" stroke-width="1.3" />
<line x1="247.50" y1="249.00" x2="358.00" y2="249.00" stroke="#231f20" stroke-width="1.3" />
<line x1="247.10" y1="249.00" x2="249.70" y2="249.00" stroke="#231f20" stroke-width="1.1" />
<text x="242.70" y="251.36" font-size="6.6" text-anchor="end" fill="#2a2a2a" stroke="#2a2a2a" stroke-width="0.12" >0.0</text>
<line x1="247.10" y1="224.95" x2="249.70" y2="224.95" stroke="#231f20" stroke-width="1.1" />
<text x="242.70" y="227.31" font-size="6.6" text-anchor="end" fill="#2a2a2a" stroke="#2a2a2a" stroke-width="0.12" >0.5</text>
<line x1="247.10" y1="200.90" x2="249.70" y2="200.90" stroke="#231f20" stroke-width="1.1" />
<text x="242.70" y="203.26" font-size="6.6" text-anchor="end" fill="#2a2a2a" stroke="#2a2a2a" stroke-width="0.12" >1.0</text>
<line x1="247.10" y1="176.85" x2="249.70" y2="176.85" stroke="#231f20" stroke-width="1.1" />
<text x="242.70" y="179.21" font-size="6.6" text-anchor="end" fill="#2a2a2a" stroke="#2a2a2a" stroke-width="0.12" >1.5</text>
<rect x="254.70" y="223.99" width="8.90" height="25.01" fill="#1c4b8c" />
<line x1="259.15" y1="221.10" x2="259.15" y2="224.29" stroke="#1c4b8c" stroke-width="0.9" />
<line x1="257.35" y1="221.10" x2="260.95" y2="221.10" stroke="#1c4b8c" stroke-width="0.9" />
<rect x="292.10" y="208.60" width="8.90" height="40.40" fill="#1c4b8c" />
<line x1="296.55" y1="205.71" x2="296.55" y2="208.90" stroke="#1c4b8c" stroke-width="0.9" />
<line x1="294.75" y1="205.71" x2="298.35" y2="205.71" stroke="#1c4b8c" stroke-width="0.9" />
<rect x="329.70" y="203.31" width="8.90" height="45.69" fill="#1c4b8c" />
<line x1="334.15" y1="201.38" x2="334.15" y2="203.61" stroke="#1c4b8c" stroke-width="0.9" />
<line x1="332.35" y1="201.38" x2="335.95" y2="201.38" stroke="#1c4b8c" stroke-width="0.9" />
<rect x="268.70" y="223.99" width="8.90" height="25.01" fill="#c40228" />
<line x1="273.15" y1="221.58" x2="273.15" y2="224.29" stroke="#c40228" stroke-width="0.9" />
<line x1="271.35" y1="221.58" x2="274.95" y2="221.58" stroke="#c40228" stroke-width="0.9" />
<rect x="306.10" y="218.70" width="8.90" height="30.30" fill="#c40228" />
<line x1="310.55" y1="215.33" x2="310.55" y2="219.00" stroke="#c40228" stroke-width="0.9" />
<line x1="308.75" y1="215.33" x2="312.35" y2="215.33" stroke="#c40228" stroke-width="0.9" />
<rect x="343.70" y="212.93" width="8.90" height="36.07" fill="#c40228" />
<line x1="348.15" y1="211.00" x2="348.15" y2="213.23" stroke="#c40228" stroke-width="0.9" />
<line x1="346.35" y1="211.00" x2="349.95" y2="211.00" stroke="#c40228" stroke-width="0.9" />
<line x1="266.20" y1="249.00" x2="266.20" y2="251.60" stroke="#231f20" stroke-width="1.1" />
<text x="266.20" y="261.20" font-size="7.2" text-anchor="middle" fill="#2a2a2a" stroke="#2a2a2a" stroke-width="0.12" >0</text>
<line x1="303.60" y1="249.00" x2="303.60" y2="251.60" stroke="#231f20" stroke-width="1.1" />
<text x="303.60" y="261.20" font-size="7.2" text-anchor="middle" fill="#2a2a2a" stroke="#2a2a2a" stroke-width="0.12" >30</text>
<line x1="341.20" y1="249.00" x2="341.20" y2="251.60" stroke="#231f20" stroke-width="1.1" />
<text x="341.20" y="261.20" font-size="7.2" text-anchor="middle" fill="#2a2a2a" stroke="#2a2a2a" stroke-width="0.12" >60</text>
<text x="285.00" y="273.50" font-size="9.2" textLength="38.50" lengthAdjust="spacingAndGlyphs" fill="#2a2a2a" stroke="#2a2a2a" stroke-width="0.12" >Time (mins)</text>
<text x="217.20" y="231.50" font-size="8.8" textLength="40.60" lengthAdjust="spacingAndGlyphs" fill="#2a2a2a" transform="rotate(-90 217.20 231.50)" stroke="#2a2a2a" stroke-width="0.12" >p-STAT3 level</text>
<text x="227.80" y="240.60" font-size="8.8" textLength="59.40" lengthAdjust="spacingAndGlyphs" fill="#2a2a2a" transform="rotate(-90 227.80 240.60)" stroke="#2a2a2a" stroke-width="0.12" >(ratio to total level)</text>
<line x1="297.60" y1="204.30" x2="310.80" y2="204.30" stroke="#3a3a3a" stroke-width="1.1" />
<circle cx="301.10" cy="201.70" r="0.85" fill="#2a2a2a"/>
<circle cx="304.20" cy="201.70" r="0.85" fill="#2a2a2a"/>
<circle cx="307.30" cy="201.70" r="0.85" fill="#2a2a2a"/>
<line x1="335.40" y1="199.20" x2="348.10" y2="199.20" stroke="#3a3a3a" stroke-width="1.1" />
<circle cx="338.65" cy="196.60" r="0.85" fill="#2a2a2a"/>
<circle cx="341.75" cy="196.60" r="0.85" fill="#2a2a2a"/>
<circle cx="344.85" cy="196.60" r="0.85" fill="#2a2a2a"/>
<line x1="404.20" y1="174.45" x2="404.20" y2="249.10" stroke="#231f20" stroke-width="1.3" />
<line x1="402.00" y1="248.60" x2="512.30" y2="248.60" stroke="#231f20" stroke-width="1.3" />
<line x1="401.60" y1="248.60" x2="404.20" y2="248.60" stroke="#231f20" stroke-width="1.1" />
<text x="397.20" y="250.96" font-size="6.6" text-anchor="end" fill="#2a2a2a" stroke="#2a2a2a" stroke-width="0.12" >0.0</text>
<line x1="401.60" y1="224.55" x2="404.20" y2="224.55" stroke="#231f20" stroke-width="1.1" />
<text x="397.20" y="226.91" font-size="6.6" text-anchor="end" fill="#2a2a2a" stroke="#2a2a2a" stroke-width="0.12" >0.5</text>
<line x1="401.60" y1="200.50" x2="404.20" y2="200.50" stroke="#231f20" stroke-width="1.1" />
<text x="397.20" y="202.86" font-size="6.6" text-anchor="end" fill="#2a2a2a" stroke="#2a2a2a" stroke-width="0.12" >1.0</text>
<line x1="401.60" y1="176.45" x2="404.20" y2="176.45" stroke="#231f20" stroke-width="1.1" />
<text x="397.20" y="178.81" font-size="6.6" text-anchor="end" fill="#2a2a2a" stroke="#2a2a2a" stroke-width="0.12" >1.5</text>
<rect x="408.80" y="222.14" width="8.90" height="26.46" fill="#1c4b8c" />
<line x1="413.25" y1="218.78" x2="413.25" y2="222.44" stroke="#1c4b8c" stroke-width="0.9" />
<line x1="411.45" y1="218.78" x2="415.05" y2="218.78" stroke="#1c4b8c" stroke-width="0.9" />
<rect x="446.30" y="213.97" width="8.90" height="34.63" fill="#1c4b8c" />
<line x1="450.75" y1="211.56" x2="450.75" y2="214.27" stroke="#1c4b8c" stroke-width="0.9" />
<line x1="448.95" y1="211.56" x2="452.55" y2="211.56" stroke="#1c4b8c" stroke-width="0.9" />
<rect x="483.90" y="204.35" width="8.90" height="44.25" fill="#1c4b8c" />
<line x1="488.35" y1="201.46" x2="488.35" y2="204.65" stroke="#1c4b8c" stroke-width="0.9" />
<line x1="486.55" y1="201.46" x2="490.15" y2="201.46" stroke="#1c4b8c" stroke-width="0.9" />
<rect x="422.80" y="221.18" width="8.90" height="27.42" fill="#c40228" />
<line x1="427.25" y1="217.82" x2="427.25" y2="221.48" stroke="#c40228" stroke-width="0.9" />
<line x1="425.45" y1="217.82" x2="429.05" y2="217.82" stroke="#c40228" stroke-width="0.9" />
<rect x="460.30" y="224.55" width="8.90" height="24.05" fill="#c40228" />
<line x1="464.75" y1="221.66" x2="464.75" y2="224.85" stroke="#c40228" stroke-width="0.9" />
<line x1="462.95" y1="221.66" x2="466.55" y2="221.66" stroke="#c40228" stroke-width="0.9" />
<rect x="497.90" y="222.14" width="8.90" height="26.46" fill="#c40228" />
<line x1="502.35" y1="219.26" x2="502.35" y2="222.44" stroke="#c40228" stroke-width="0.9" />
<line x1="500.55" y1="219.26" x2="504.15" y2="219.26" stroke="#c40228" stroke-width="0.9" />
<line x1="420.30" y1="248.60" x2="420.30" y2="251.20" stroke="#231f20" stroke-width="1.1" />
<text x="420.30" y="261.20" font-size="7.2" text-anchor="middle" fill="#2a2a2a" stroke="#2a2a2a" stroke-width="0.12" >0</text>
<line x1="457.80" y1="248.60" x2="457.80" y2="251.20" stroke="#231f20" stroke-width="1.1" />
<text x="457.80" y="261.20" font-size="7.2" text-anchor="middle" fill="#2a2a2a" stroke="#2a2a2a" stroke-width="0.12" >30</text>
<line x1="495.40" y1="248.60" x2="495.40" y2="251.20" stroke="#231f20" stroke-width="1.1" />
<text x="495.40" y="261.20" font-size="7.2" text-anchor="middle" fill="#2a2a2a" stroke="#2a2a2a" stroke-width="0.12" >60</text>
<text x="440.00" y="273.50" font-size="9.2" textLength="38.50" lengthAdjust="spacingAndGlyphs" fill="#2a2a2a" stroke="#2a2a2a" stroke-width="0.12" >Time (mins)</text>
<text x="382.60" y="238.80" font-size="9.6" textLength="55.80" lengthAdjust="spacingAndGlyphs" fill="#2a2a2a" transform="rotate(-90 382.60 238.80)" stroke="#2a2a2a" stroke-width="0.12" >TPO relative level</text>
<line x1="451.50" y1="209.70" x2="465.30" y2="209.70" stroke="#3a3a3a" stroke-width="1.1" />
<circle cx="456.85" cy="207.10" r="0.85" fill="#2a2a2a"/>
<circle cx="459.95" cy="207.10" r="0.85" fill="#2a2a2a"/>
<line x1="488.80" y1="199.90" x2="502.70" y2="199.90" stroke="#3a3a3a" stroke-width="1.1" />
<circle cx="492.65" cy="197.30" r="0.85" fill="#2a2a2a"/>
<circle cx="495.75" cy="197.30" r="0.85" fill="#2a2a2a"/>
<circle cx="498.85" cy="197.30" r="0.85" fill="#2a2a2a"/>
<line x1="44.10" y1="304.60" x2="44.10" y2="394.70" stroke="#231f20" stroke-width="1.3" />
<line x1="41.60" y1="394.20" x2="175.70" y2="394.20" stroke="#231f20" stroke-width="1.3" />
<line x1="41.50" y1="394.20" x2="44.10" y2="394.20" stroke="#231f20" stroke-width="1.1" />
<text x="37.40" y="396.81" font-size="7.3" text-anchor="end" fill="#2a2a2a" stroke="#2a2a2a" stroke-width="0.12" >0</text>
<line x1="41.50" y1="365.00" x2="44.10" y2="365.00" stroke="#231f20" stroke-width="1.1" />
<text x="37.40" y="367.61" font-size="7.3" text-anchor="end" fill="#2a2a2a" stroke="#2a2a2a" stroke-width="0.12" >1</text>
<line x1="41.50" y1="335.80" x2="44.10" y2="335.80" stroke="#231f20" stroke-width="1.1" />
<text x="37.40" y="338.41" font-size="7.3" text-anchor="end" fill="#2a2a2a" stroke="#2a2a2a" stroke-width="0.12" >2</text>
<line x1="41.50" y1="306.60" x2="44.10" y2="306.60" stroke="#231f20" stroke-width="1.1" />
<text x="37.40" y="309.21" font-size="7.3" text-anchor="end" fill="#2a2a2a" stroke="#2a2a2a" stroke-width="0.12" >3</text>
<rect x="48.15" y="361.50" width="7.80" height="32.70" fill="#c8c7d0" />
<line x1="52.05" y1="358.58" x2="52.05" y2="361.80" stroke="#c8c7d0" stroke-width="0.9" />
<line x1="50.25" y1="358.58" x2="53.85" y2="358.58" stroke="#c8c7d0" stroke-width="0.9" />
<rect x="93.35" y="365.58" width="7.80" height="28.62" fill="#c8c7d0" />
<line x1="97.25" y1="363.25" x2="97.25" y2="365.88" stroke="#c8c7d0" stroke-width="0.9" />
<line x1="95.45" y1="363.25" x2="99.05" y2="363.25" stroke="#c8c7d0" stroke-width="0.9" />
<rect x="138.45" y="365.58" width="7.80" height="28.62" fill="#c8c7d0" />
<line x1="142.35" y1="363.54" x2="142.35" y2="365.88" stroke="#c8c7d0" stroke-width="0.9" />
<line x1="140.55" y1="363.54" x2="144.15" y2="363.54" stroke="#c8c7d0" stroke-width="0.9" />
<rect x="60.55" y="361.50" width="7.80" height="32.70" fill="#1c4b8c" />
<line x1="64.45" y1="359.16" x2="64.45" y2="361.80" stroke="#1c4b8c" stroke-width="0.9" />
<line x1="62.65" y1="359.16" x2="66.25" y2="359.16" stroke="#1c4b8c" stroke-width="0.9" />
<rect x="105.75" y="356.82" width="7.80" height="37.38" fill="#1c4b8c" />
<line x1="109.65" y1="353.90" x2="109.65" y2="357.12" stroke="#1c4b8c" stroke-width="0.9" />
<line x1="107.85" y1="353.90" x2="111.45" y2="353.90" stroke="#1c4b8c" stroke-width="0.9" />
<rect x="150.85" y="325.58" width="7.80" height="68.62" fill="#1c4b8c" />
<line x1="154.75" y1="317.11" x2="154.75" y2="325.88" stroke="#1c4b8c" stroke-width="0.9" />
<line x1="152.95" y1="317.11" x2="156.55" y2="317.11" stroke="#1c4b8c" stroke-width="0.9" />
<rect x="72.65" y="362.66" width="7.80" height="31.54" fill="#c40228" />
<line x1="76.55" y1="361.79" x2="76.55" y2="362.96" stroke="#c40228" stroke-width="0.9" />
<line x1="74.75" y1="361.79" x2="78.35" y2="361.79" stroke="#c40228" stroke-width="0.9" />
<rect x="117.85" y="362.37" width="7.80" height="31.83" fill="#c40228" />
<line x1="121.75" y1="359.45" x2="121.75" y2="362.67" stroke="#c40228" stroke-width="0.9" />
<line x1="119.95" y1="359.45" x2="123.55" y2="359.45" stroke="#c40228" stroke-width="0.9" />
<rect x="162.95" y="359.16" width="7.80" height="35.04" fill="#c40228" />
<line x1="166.85" y1="355.66" x2="166.85" y2="359.46" stroke="#c40228" stroke-width="0.9" />
<line x1="165.05" y1="355.66" x2="168.65" y2="355.66" stroke="#c40228" stroke-width="0.9" />
<line x1="64.30" y1="394.20" x2="64.30" y2="396.80" stroke="#231f20" stroke-width="1.1" />
<text x="64.30" y="407.00" font-size="7.2" text-anchor="middle" fill="#2a2a2a" stroke="#2a2a2a" stroke-width="0.12" >0</text>
<line x1="109.50" y1="394.20" x2="109.50" y2="396.80" stroke="#231f20" stroke-width="1.1" />
<text x="109.50" y="407.00" font-size="7.2" text-anchor="middle" fill="#2a2a2a" stroke="#2a2a2a" stroke-width="0.12" >12</text>
<line x1="154.60" y1="394.20" x2="154.60" y2="396.80" stroke="#231f20" stroke-width="1.1" />
<text x="154.60" y="407.00" font-size="7.2" text-anchor="middle" fill="#2a2a2a" stroke="#2a2a2a" stroke-width="0.12" >24</text>
<text x="90.40" y="418.60" font-size="9.2" textLength="39.70" lengthAdjust="spacingAndGlyphs" fill="#2a2a2a" stroke="#2a2a2a" stroke-width="0.12" >Time (hours)</text>
<text x="27.60" y="387.20" font-size="9.2" textLength="76.20" lengthAdjust="spacingAndGlyphs" fill="#2a2a2a" transform="rotate(-90 27.60 387.20)" stroke="#2a2a2a" stroke-width="0.12" >Hepatic TPO mRNA level</text>
<circle cx="151.40" cy="314.50" r="1.0" fill="#2a2a2a"/>
<circle cx="154.80" cy="314.50" r="1.0" fill="#2a2a2a"/>
<circle cx="158.20" cy="314.50" r="1.0" fill="#2a2a2a"/>
<rect x="49.20" y="308.70" width="6.20" height="2.60" fill="#c8c7d0" />
<text x="58.80" y="312.30" font-size="7.0" textLength="11.00" lengthAdjust="spacingAndGlyphs" fill="#2b2b2b" stroke="#2b2b2b" stroke-width="0.2" >Plts</text>
<rect x="49.20" y="317.20" width="6.20" height="2.60" fill="#1c4b8c" />
<text x="58.80" y="320.60" font-size="7.0" textLength="30.20" lengthAdjust="spacingAndGlyphs" fill="#2b2b2b" stroke="#2b2b2b" stroke-width="0.2" >Desia-Plts</text>
<rect x="49.20" y="325.00" width="6.20" height="2.60" fill="#c40228" />
<text x="58.80" y="328.70" font-size="7.0" textLength="55.80" lengthAdjust="spacingAndGlyphs" fill="#2b2b2b" stroke="#2b2b2b" stroke-width="0.2" >Desia-Plts-Dll4 Ab</text>
<rect x="236.90" y="363.50" width="276.00" height="2.80" fill="#d5d5d7" />
<text x="259.70" y="311.40" font-size="7.3" textLength="37.40" lengthAdjust="spacingAndGlyphs" fill="#2b2b2b" stroke="#2b2b2b" stroke-width="0.22" >Desialylated</text>
<text x="264.80" y="318.90" font-size="7.3" textLength="26.90" lengthAdjust="spacingAndGlyphs" fill="#2b2b2b" stroke="#2b2b2b" stroke-width="0.22" >platelets</text>
<text x="222.00" y="333.50" font-size="7.3" textLength="37.20" lengthAdjust="spacingAndGlyphs" fill="#2b2b2b" stroke="#2b2b2b" stroke-width="0.22" >Kupffer cells</text>
<text x="291.00" y="334.70" font-size="7.3" textLength="12.20" lengthAdjust="spacingAndGlyphs" fill="#2b2b2b" stroke="#2b2b2b" stroke-width="0.22" >Dll4</text>
<text x="238.00" y="373.40" font-size="7.3" textLength="38.90" lengthAdjust="spacingAndGlyphs" fill="#2b2b2b" stroke="#2b2b2b" stroke-width="0.22" >Hepatocytes</text>
<text x="287.30" y="361.40" font-size="7.3" textLength="13.80" lengthAdjust="spacingAndGlyphs" fill="#2b2b2b" stroke="#2b2b2b" stroke-width="0.22" >AMR</text>
<text x="305.80" y="361.20" font-size="7.3" textLength="21.80" lengthAdjust="spacingAndGlyphs" fill="#2b2b2b" stroke="#2b2b2b" stroke-width="0.22" >Notch1</text>
<text x="400.30" y="360.40" font-size="7.3" textLength="21.60" lengthAdjust="spacingAndGlyphs" fill="#2b2b2b" stroke="#2b2b2b" stroke-width="0.22" >Notch1</text>
<text x="375.20" y="379.40" font-size="7.3" textLength="17.30" lengthAdjust="spacingAndGlyphs" fill="#2b2b2b" stroke="#2b2b2b" stroke-width="0.22" >NICD</text>
<text x="385.80" y="399.00" font-size="7.3" textLength="16.80" lengthAdjust="spacingAndGlyphs" fill="#2b2b2b" stroke="#2b2b2b" stroke-width="0.22" >HES5</text>
<text x="411.20" y="417.10" font-size="7.3" textLength="38.00" lengthAdjust="spacingAndGlyphs" fill="#2b2b2b" stroke="#2b2b2b" stroke-width="0.22" >JAK2-STAT3</text>
<text x="466.80" y="390.00" font-size="7.3" textLength="33.40" lengthAdjust="spacingAndGlyphs" fill="#2b2b2b" stroke="#2b2b2b" stroke-width="0.22" >TPO mRNA</text>
<text x="474.50" y="335.10" font-size="7.3" textLength="13.60" lengthAdjust="spacingAndGlyphs" fill="#2b2b2b" stroke="#2b2b2b" stroke-width="0.22" >TPO</text>
<g filter="url(#bs)">
<path d="M244.2,336.4 L247.4,336.8 L250.0,342.4 L255.0,341.4 L260.6,339.8 L258.6,342.8 L264.7,345.4 L268.5,347.8 L275.8,349.3 L270.8,351.0 L272.4,354.0 L276.6,358.2 L270.5,357.8 L260.8,356.8 L254.0,356.4 L246.6,358.6 L250.0,354.4 L247.4,350.8 L243.5,348.9 L238.0,347.0 L238.4,344.6 L246.2,345.4 L246.0,343.6 L243.4,337.4 Z" fill="#a8c5cd" stroke="#a8c5cd" stroke-width="1.1" stroke-linejoin="round"/>
<ellipse cx="258.4" cy="350.6" rx="6.0" ry="3.3" transform="rotate(14 258.4 350.6)" fill="#b3cfd6"/>
<ellipse cx="258.4" cy="350.6" rx="4.0" ry="1.7" transform="rotate(14 258.4 350.6)" fill="#1f4a7c"/>
</g>
<g filter="url(#bs)">
<path d="M349.9,321.0 L351.8,323.4 L352.2,328.4 L358.0,329.4 L363.4,330.4 L361.0,333.4 L365.7,339.8 L371.2,342.8 L367.8,342.4 L365.6,346.6 L370.8,352.8 L362.8,348.8 L356.0,346.8 L350.3,343.0 L343.4,343.4 L342.0,341.8 L346.5,338.6 L346.5,334.4 L338.6,329.6 L338.2,327.6 L339.8,326.8 L348.0,328.4 L347.8,322.8 Z" fill="#a8c5cd" stroke="#a8c5cd" stroke-width="1.1" stroke-linejoin="round"/>
<ellipse cx="356.6" cy="340.0" rx="6.8" ry="3.5" transform="rotate(50 356.6 340.0)" fill="#b3cfd6"/>
<ellipse cx="356.6" cy="340.0" rx="4.8" ry="1.9" transform="rotate(50 356.6 340.0)" fill="#1f4a7c"/>
</g>
<path d="M285.9,366.6 L285.9,353.4" stroke="#9cbcc3" stroke-width="2.4" fill="none"/>
<path d="M281.9,347.2 Q283.5,353.4 285.9,354.2 Q288.3,353.4 289.9,347.2" stroke="#6f979c" stroke-width="2.0" fill="none" stroke-linecap="round"/>
<path d="M380.4,366.6 L380.4,352.6" stroke="#9cbcc3" stroke-width="2.4" fill="none"/>
<path d="M376.4,346.4 Q378.0,352.6 380.4,353.4 Q382.8,352.6 384.4,346.4" stroke="#6f979c" stroke-width="2.0" fill="none" stroke-linecap="round"/>
<radialGradient id="pg" cx="0.45" cy="0.4" r="0.65"><stop offset="0" stop-color="#b89a34"/><stop offset="0.65" stop-color="#a98b2a"/><stop offset="1" stop-color="#8e7522"/></radialGradient>
<g transform="translate(276.3 331.2) scale(1.0 1.0)" filter="url(#bs)">
<path d="M-10,-0.5 C-10.5,-5 -6,-8.2 0,-8 C3,-8.4 6,-7.5 8,-5.5 C10.2,-3.2 10.4,1 9.4,3.6 C8,7 4,8.3 -0.5,8.1 C-5,8 -9.6,5 -10,-0.5 Z" fill="url(#pg)"/>
</g>
<path d="M266.8,329.2 L262.6,330.6 L266.9,332.0 Z" fill="#9c8226"/>
<path d="M268.8,337.0 L269.6,342.0 L271.6,338.2 Z" fill="#9c8226"/>
<path d="M284.6,333.6 L288.2,333.4 L285.4,331.2 Z" fill="#9c8226"/>
<path d="M275.5,338.8 L274.6,340.0 L277.2,339.0 Z" fill="#9c8226"/>
<g transform="translate(380.2 326.8) scale(1.05 0.98)" filter="url(#bs)">
<path d="M-10,-0.5 C-10.5,-5 -6,-8.2 0,-8 C3,-8.4 6,-7.5 8,-5.5 C10.2,-3.2 10.4,1 9.4,3.6 C8,7 4,8.3 -0.5,8.1 C-5,8 -9.6,5 -10,-0.5 Z" fill="url(#pg)"/>
</g>
<path d="M371.0,322.0 L369.4,321.6 L371.6,324.6 Z" fill="#9c8226"/>
<path d="M373.6,332.8 L375.0,335.6 L376.0,333.6 Z" fill="#9c8226"/>
<path d="M384.2,333.8 L386.0,337.0 L386.6,333.4 Z" fill="#9c8226"/>
<path d="M274.4,338.6 L274.2,343.2 M274.2,343.2 L269.8,347.2 M274.2,343.2 L278.6,346.8" stroke="#6b3d90" stroke-width="1.1" fill="none" stroke-linecap="round"/>
<path d="M273.2,345.4 L271.4,347.6 M275.2,345.2 L277.0,347.2" stroke="#6b3d90" stroke-width="0.9" fill="none" stroke-linecap="round"/>
<path d="M286.0,334.6 L285.6,339.4 M285.6,339.4 L281.6,343.2 M285.6,339.4 L289.6,342.0" stroke="#6b3d90" stroke-width="1.1" fill="none" stroke-linecap="round"/>
<path d="M284.8,341.5 L283.2,343.6 M286.4,340.9 L288.0,342.4" stroke="#6b3d90" stroke-width="0.9" fill="none" stroke-linecap="round"/>
<path d="M375.8,333.6 L374.2,337.6 M374.2,337.6 L368.8,339.8 M374.2,337.6 L373.6,341.8" stroke="#6b3d90" stroke-width="1.1" fill="none" stroke-linecap="round"/>
<path d="M372.7,338.9 L370.4,340.2 M372.7,339.9 L372.0,342.2" stroke="#6b3d90" stroke-width="0.9" fill="none" stroke-linecap="round"/>
<path d="M386.2,334.6 L385.6,338.2 M385.6,338.2 L381.8,341.4 M385.6,338.2 L389.4,341.6" stroke="#6b3d90" stroke-width="1.1" fill="none" stroke-linecap="round"/>
<path d="M384.9,340.0 L383.4,341.8 M386.3,340.1 L387.8,342.0" stroke="#6b3d90" stroke-width="0.9" fill="none" stroke-linecap="round"/>
<path d="M291.8,338.4 L296.4,347.4" stroke="#5a3240" stroke-width="2.1" stroke-linecap="round"/>
<rect x="391.6" y="340.3" width="2.2" height="11.4" fill="#8e6e66"/>
<linearGradient id="ng" x1="0" y1="0" x2="0" y2="1"><stop offset="0" stop-color="#b09c70"/><stop offset="0.5" stop-color="#7e6c40"/><stop offset="0.72" stop-color="#3e3622"/><stop offset="1" stop-color="#1e1c16"/></linearGradient>
<rect x="301.40" y="339.80" width="2.40" height="22.40" fill="url(#ng)" />
<rect x="393.70" y="340.30" width="2.00" height="21.80" fill="url(#ng)" />
<rect x="301.70" y="367.00" width="1.80" height="2.00" fill="#c8c8c8" />
<rect x="301.70" y="369.80" width="1.80" height="1.40" fill="#b0b0b0" />
<rect x="301.70" y="371.80" width="1.80" height="6.20" fill="#3a3a3a" />
<rect x="301.70" y="378.60" width="1.80" height="1.40" fill="#888" />
<rect x="301.70" y="380.80" width="1.80" height="1.40" fill="#999" />
<rect x="301.70" y="383.00" width="1.80" height="1.40" fill="#aaa" />
<rect x="394.50" y="367.00" width="1.80" height="1.80" fill="#c8c8c8" />
<rect x="394.50" y="369.60" width="1.80" height="1.20" fill="#b8b8b8" />
<rect x="394.50" y="371.40" width="1.80" height="10.60" fill="#444" />
<rect x="394.50" y="382.60" width="1.80" height="1.40" fill="#999" />
<rect x="394.50" y="384.80" width="1.80" height="1.20" fill="#aaa" />
<rect x="394.50" y="373.40" width="1.80" height="0.60" fill="#777" />
<rect x="394.50" y="376.20" width="1.80" height="0.60" fill="#777" />
<rect x="394.50" y="379.00" width="1.80" height="0.60" fill="#777" />
<rect x="301.70" y="373.60" width="1.80" height="0.60" fill="#707070" />
<rect x="301.70" y="376.00" width="1.80" height="0.60" fill="#707070" />
<defs><marker id="ah" viewBox="0 0 6 6" refX="5" refY="3" markerWidth="4.2" markerHeight="4.2" orient="auto"><path d="M0,0 L6,3 L0,6 Z" fill="#111"/></marker></defs>
<path d="M326.4,354.2 L347.2,354.2" stroke="#111" stroke-width="0.8" marker-end="url(#ah)"/>
<path d="M481.4,377.6 L481.4,357.6" stroke="#111" stroke-width="0.8" marker-end="url(#ah)"/>
<path d="M401.2,380.0 Q406.4,380.6 406.6,387.4" stroke="#111" stroke-width="0.8" fill="none" marker-end="url(#ah)"/>
<path d="M412.4,401.0 L420.4,404.8" stroke="#111" stroke-width="0.8" marker-end="url(#ah)"/>
<path d="M442.4,404.8 L448.8,399.4" stroke="#111" stroke-width="0.8" marker-end="url(#ah)"/>
<path d="M456.0,392.0 L456.0,388.0 L463.4,388.0" stroke="#111" stroke-width="0.8" fill="none" marker-end="url(#ah)"/>
<g transform="translate(408 371.8)" stroke="#222" stroke-width="0.7" fill="none"><path d="M-3.2,-2.0 L2.4,1.6 M-3.2,2.0 L2.4,-1.6"/><circle cx="3.0" cy="-1.9" r="0.9"/><circle cx="3.0" cy="1.9" r="0.9"/></g>
<ellipse cx="406.8" cy="395.6" rx="2.9" ry="4.8" fill="#4a3a7c"/>
<circle cx="426.4" cy="406.9" r="3.9" fill="#5f7f66" stroke="#3e5a46" stroke-width="0.6"/>
<circle cx="435.4" cy="406.9" r="3.9" fill="#b47e5e" stroke="#7e5440" stroke-width="0.6"/>
<text x="437.0" y="403.0" font-size="3.2" fill="#d23a3a">P</text>
<path d="M459,394.2 c0.5,-2 1.6,-2 1.1,0 c-0.2,0.8 0.6,0.8 0.9,0 c0.5,-2 1.6,-2 1.1,0 c-0.2,0.8 0.6,0.8 0.9,0 c0.5,-2 1.6,-2 1.1,0 c-0.2,0.8 0.6,0.8 0.9,0 c0.5,-2 1.6,-2 1.1,0 c-0.2,0.8 0.6,0.8 0.9,0 c0.5,-2 1.6,-2 1.1,0 c-0.2,0.8 0.6,0.8 0.9,0 c0.5,-2 1.6,-2 1.1,0 c-0.2,0.8 0.6,0.8 0.9,0 c0.5,-2 1.6,-2 1.1,0 c-0.2,0.8 0.6,0.8 0.9,0 c0.5,-2 1.6,-2 1.1,0 c-0.2,0.8 0.6,0.8 0.9,0 c0.5,-2 1.6,-2 1.1,0 c-0.2,0.8 0.6,0.8 0.9,0 c0.5,-2 1.6,-2 1.1,0 c-0.2,0.8 0.6,0.8 0.9,0" stroke="#3a4290" stroke-width="0.75" fill="none"/>
<path d="M447.6,393.6 q1,-1.4 2,0 t2,0" stroke="#34408a" stroke-width="0.8" fill="none"/>
<ellipse cx="454.4" cy="393.2" rx="5.6" ry="2.4" fill="#3d55b8"/>
<ellipse cx="453.4" cy="392.4" rx="2.6" ry="1.6" fill="#4d67cc"/>
<path d="M450,393.4 q1.5,-1.5 3,0 t3,0 t3,0" stroke="#2c3a90" stroke-width="0.6" fill="none"/>
<circle cx="475.1" cy="340.7" r="1.25" fill="#111"/>
<circle cx="481.0" cy="339.2" r="1.25" fill="#111"/>
<circle cx="486.1" cy="340.7" r="1.25" fill="#111"/>
<circle cx="481.0" cy="343.8" r="1.25" fill="#111"/>
<circle cx="476.0" cy="347.6" r="1.25" fill="#111"/>
<circle cx="488.1" cy="345.7" r="1.25" fill="#111"/>
<circle cx="482.5" cy="349.4" r="1.25" fill="#111"/>
<rect x="0.00" y="0.00" width="520.00" height="1.10" fill="#555" />
<rect x="0.00" y="0.00" width="1.10" height="429.00" fill="#555" />
<rect x="518.60" y="0.00" width="1.40" height="429.00" fill="#555" />
<rect x="0.00" y="427.60" width="520.00" height="1.40" fill="#555" />
</svg></body></html>
